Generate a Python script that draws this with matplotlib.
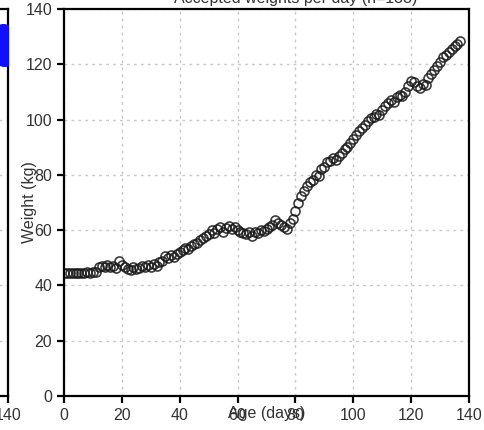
import numpy as np
import matplotlib.pyplot as plt

plt.rcParams.update({"font.family": ["Liberation Sans", "DejaVu Sans"], "font.size": 11.5})

days = np.arange(0, 138)
weights = [
    44.5, 44.5, 44.4, 44.6, 44.5, 44.5, 44.6, 44.5, 44.7, 44.6, 44.8, 45.0,
    46.5, 47.2, 46.8, 47.5, 46.5, 47.0, 46.2, 49.0, 47.5, 46.8, 46.0, 45.5,
    46.5, 45.8, 46.2, 47.0, 46.8, 47.5, 46.5, 47.8, 47.2, 48.5, 49.0, 50.5,
    50.0, 51.0, 50.2, 51.5, 52.0, 52.8, 53.5, 53.0, 54.2, 55.0, 55.5, 56.5,
    57.0, 58.0, 58.5, 60.0, 59.0, 60.5, 61.0, 59.5, 60.8, 61.5, 60.5, 61.0,
    60.0, 59.5, 59.0, 58.5, 59.2, 58.0, 59.5, 59.0, 60.0, 59.8, 60.5, 61.0,
    62.0, 63.5, 62.5, 62.0, 61.0, 60.5, 62.5, 64.0, 67.0, 70.0, 72.5, 74.0,
    76.0, 77.5, 78.0, 80.0, 79.5, 82.0, 83.0, 84.5, 85.0, 86.0, 85.5, 87.0,
    88.0, 89.5, 90.0, 91.5, 93.0, 94.5, 96.0, 97.0, 98.0, 99.5, 100.5, 101.0,
    102.0, 101.5, 103.5, 105.0, 106.0, 107.0, 106.5, 108.0, 109.0, 108.5, 110.0, 112.0,
    114.0, 113.5, 112.0, 111.5, 113.0, 112.5, 115.0, 116.5, 118.0, 119.5, 121.0, 122.5,
    123.5, 124.5, 125.5, 126.5, 127.5, 128.5,
]

# partial neighbour panel (only its right edge is visible)
blue_x = [138.5, 139.0, 139.5, 139.2, 138.8, 139.6, 139.8]
blue_y = [131, 129, 127, 125, 123, 128, 124]

ticks = [0, 20, 40, 60, 80, 100, 120, 140]
W, H = 485, 430

fig = plt.figure(figsize=(W / 100, H / 100), dpi=100)


def style(ax):
    ax.set_xlim(0, 140)
    ax.set_ylim(0, 140)
    ax.set_xticks(ticks)
    ax.set_yticks(ticks)
    ax.grid(True, color="#c8c8c8", linestyle=(0, (2, 3)), linewidth=1.0)
    ax.set_axisbelow(True)
    for s in ax.spines.values():
        s.set_linewidth(1.6)
    ax.tick_params(direction="out", length=5, width=1.6, colors="black",
                   labelcolor="#333333", labelsize=11.5)


ax0 = fig.add_axes([-1.0, (H - 396) / H, 1.0 + 8 / W, 387 / H])
style(ax0)
ax0.scatter(blue_x, blue_y, s=200, color="#1010ff", zorder=3)

ax = fig.add_axes([64 / W, (H - 396) / H, 405 / W, 387 / H])
style(ax)
ax.plot(days, weights, "o", mfc="none", mec="#1a1a1a", ms=6.5, mew=1.2, alpha=0.85)
ax.set_xlabel("Age (days)", color="#333333", va="center")
ax.xaxis.set_label_coords(0.5, -0.044)
ax.set_ylabel("Weight (kg)", color="#333333", va="center")
ax.yaxis.set_label_coords(-0.084, 0.5)

fig.text(296 / W, 1 - 2.5 / H, "Accepted weights per day (n=138)",
         ha="center", va="baseline", color="#333333", fontsize=11.5)

fig.savefig("out.png", dpi=100)
